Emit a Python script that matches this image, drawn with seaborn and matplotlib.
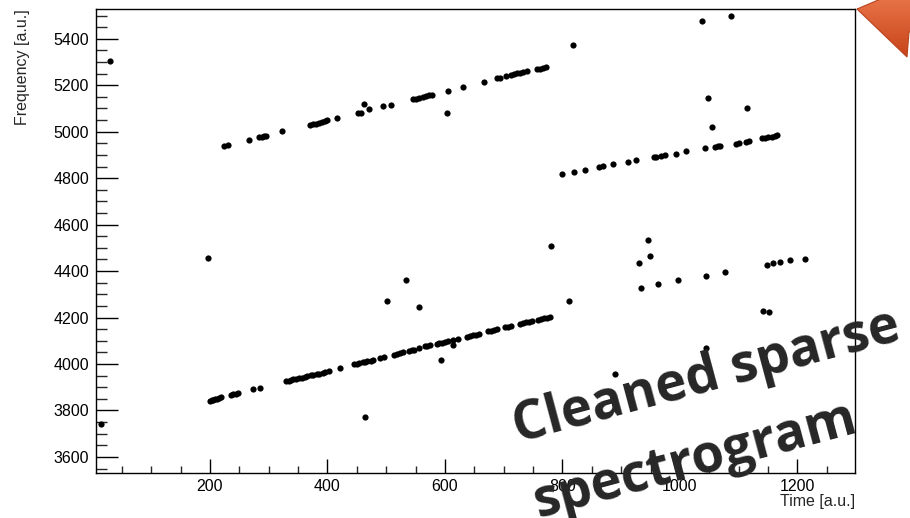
import matplotlib
matplotlib.use("Agg")
import matplotlib.pyplot as plt
from matplotlib.patches import Polygon
from matplotlib.colors import LinearSegmentedColormap
from matplotlib.ticker import MultipleLocator
import numpy as np
import pandas as pd
import seaborn as sns

# --- data: time / frequency of the retained spectrogram peaks ---
lower_track_t = [200, 203, 206, 209, 212, 215, 219, 236, 240, 244, 248, 273, 285,
                 330, 334, 338, 342, 346, 352, 356, 362, 366, 372, 376, 382, 386, 392, 396, 402,
                 422, 446, 450, 454, 460, 464, 468, 474, 478, 490, 496, 514, 518, 524, 528,
                 538, 544, 548, 556, 566, 570, 575, 586, 590, 595, 600, 605, 614, 622,
                 637, 642, 647, 652, 658, 673, 678, 684, 689, 702, 707, 712,
                 728, 733, 738, 743, 748, 758, 763, 768, 773, 778]
lower_track_f = [3842, 3845, 3847, 3849, 3851, 3853, 3856, 3866, 3869, 3871, 3874, 3891, 3898,
                 3927, 3929, 3931, 3934, 3936, 3939, 3942, 3945, 3948, 3951, 3954, 3957, 3959, 3963, 3966, 3969,
                 3985, 3998, 4001, 4004, 4007, 4009, 4012, 4015, 4018, 4026, 4030, 4041, 4044, 4047, 4050,
                 4056, 4059, 4062, 4068, 4076, 4078, 4081, 4087, 4090, 4092, 4095, 4098, 4104, 4108,
                 4118, 4121, 4124, 4127, 4130, 4140, 4143, 4146, 4149, 4158, 4161, 4164,
                 4174, 4177, 4179, 4182, 4185, 4191, 4194, 4197, 4200, 4203]

upper_track_t = [224, 230, 266, 284, 288, 292, 296, 323, 370, 375, 380, 386, 391, 396, 400,
                 417, 452, 457, 471, 495, 509, 546, 551, 556, 562, 567, 572, 578,
                 606, 631, 667, 689, 693, 704, 713, 718, 723, 728, 733, 739, 757, 762, 767, 772]
upper_track_f = [4939, 4942, 4964, 4975, 4978, 4981, 4983, 5001, 5030, 5032, 5035, 5038, 5042, 5047, 5049,
                 5057, 5079, 5082, 5096, 5109, 5113, 5140, 5142, 5145, 5150, 5154, 5157, 5160,
                 5177, 5192, 5214, 5229, 5231, 5240, 5246, 5248, 5251, 5253, 5256, 5260, 5268, 5271, 5275, 5280]

late_track_t = [799, 819, 838, 863, 869, 886, 912, 925, 955, 960, 968, 975, 994, 1010,
                1043, 1060, 1065, 1068, 1095, 1100, 1112, 1117, 1139, 1145, 1150, 1156, 1161, 1166]
late_track_f = [4817, 4826, 4834, 4847, 4851, 4859, 4870, 4877, 4889, 4891, 4896, 4901, 4906, 4915,
                4928, 4934, 4937, 4939, 4949, 4951, 4957, 4961, 4971, 4974, 4977, 4979, 4982, 4985]

mid_track_t = [933, 962, 996, 1044, 1077, 1149, 1159, 1171, 1188, 1213]
mid_track_f = [4329, 4344, 4360, 4379, 4394, 4425, 4433, 4437, 4446, 4454]

isolated_t = [14, 30, 197, 463, 464, 501, 534, 555, 594, 603, 613, 781, 812, 818,
              890, 931, 946, 949, 1038, 1044, 1047, 1054, 1087, 1114, 1142, 1152]
isolated_f = [3741, 5303, 4455, 5117, 3774, 4270, 4360, 4245, 4019, 5081, 4081, 4510, 4270, 5374,
              3959, 4435, 4533, 4464, 5476, 4067, 5143, 5020, 5497, 5100, 4227, 4226]

x_major = [200, 400, 600, 800, 1000, 1200]
y_major = [3600, 3800, 4000, 4200, 4400, 4600, 4800, 5000, 5200, 5400]

peaks = pd.DataFrame({
    "time": lower_track_t + upper_track_t + late_track_t + mid_track_t + isolated_t,
    "freq": lower_track_f + upper_track_f + late_track_f + mid_track_f + isolated_f,
})

sns.set_style("ticks")
plt.rcParams["font.family"] = ["Liberation Sans", "DejaVu Sans"]

W, H = 910, 518
fig = plt.figure(figsize=(W / 100, H / 100), dpi=100)
ax = fig.add_axes([96 / W, 45 / H, 759 / W, 464 / H])

sns.scatterplot(data=peaks, x="time", y="freq", ax=ax, color="black",
                s=20, linewidth=0, legend=False)

ax.set_xlim(6, 1298)
ax.set_ylim(3531, 5528)
ax.set_xticks(x_major)
ax.set_yticks(y_major)
ax.xaxis.set_minor_locator(MultipleLocator(50))
ax.yaxis.set_minor_locator(MultipleLocator(50))

ax.tick_params(axis="x", which="major", direction="in", length=10, width=1.0,
               labelsize=11.5, pad=4, colors="black")
ax.tick_params(axis="x", which="minor", direction="in", length=5, width=1.0)
ax.tick_params(axis="y", which="major", direction="in", length=16, width=1.0,
               labelsize=11.5, pad=5, colors="black")
ax.tick_params(axis="y", which="minor", direction="in", length=8, width=1.0)

for sp in ax.spines.values():
    sp.set_linewidth(1.0)
    sp.set_color("black")
    sp.set_visible(True)

ax.set_xlabel("Time [a.u.]", fontsize=11.5, loc="right", labelpad=0)
ax.set_ylabel("Frequency [a.u.]", fontsize=11.5, loc="top", labelpad=17)

# tilted caption
cap = dict(fontsize=38, fontweight="bold", color="#262626",
           family=["Open Sans", "DejaVu Sans"], rotation=15,
           rotation_mode="anchor", ha="left", va="baseline",
           transform=None)
fig.text(518, H - 442, "Cleaned sparse", **cap)
fig.text(538, H - 517, "spectrogram", **cap)

# orange corner arrow with a vertical shading
overlay = fig.add_axes([0, 0, 1, 1], zorder=10)
overlay.set_xlim(0, W)
overlay.set_ylim(0, H)
overlay.axis("off")
overlay.patch.set_alpha(0)
shape = [(857, H - 9), (883, H + 2), (912, H + 2), (912, H - 32),
         (909, H - 32), (907, H - 57)]
orange = LinearSegmentedColormap.from_list("corner", ["#c8431a", "#e77346"])
grad = np.linspace(0, 1, 64).reshape(-1, 1)
img = overlay.imshow(grad, cmap=orange, origin="lower", aspect="auto",
                     extent=(855, 912, H - 58, H + 2))
clip = Polygon(shape, closed=True, facecolor="none", edgecolor="#b9441f", linewidth=0.8)
overlay.add_patch(clip)
img.set_clip_path(clip)
overlay.set_xlim(0, W)
overlay.set_ylim(0, H)

fig.savefig("out.png", dpi=100)
